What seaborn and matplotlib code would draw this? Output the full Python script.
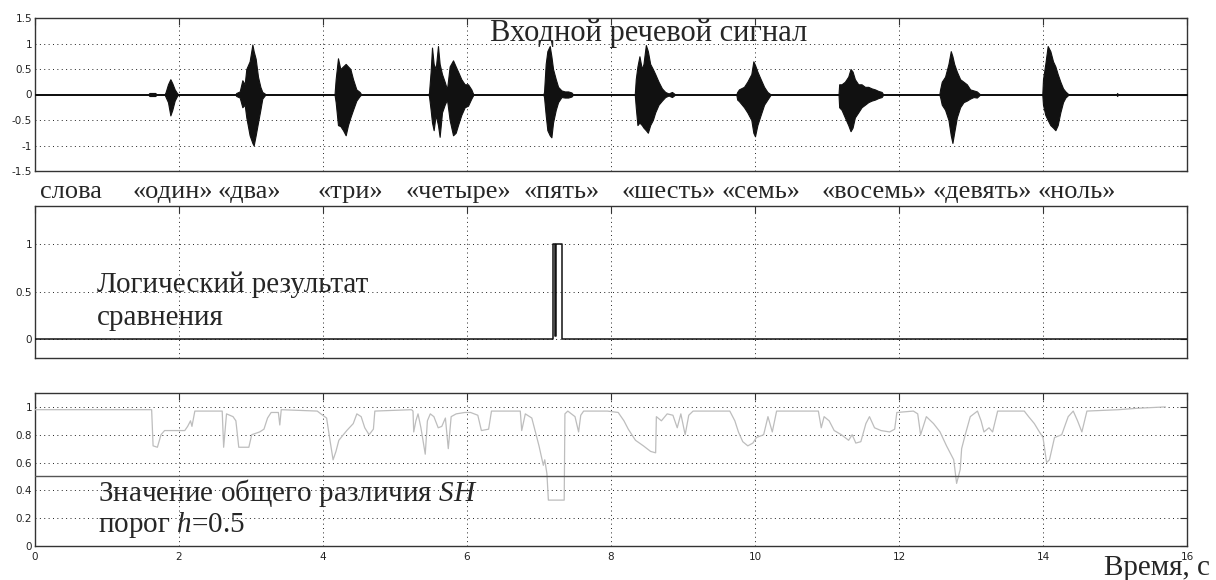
import numpy as np
import matplotlib
matplotlib.use("Agg")
import matplotlib.pyplot as plt
import matplotlib.transforms as mtransforms
import seaborn as sns

# ---------------- data ----------------
# speech waveform envelope: time (s), upper and lower envelope
wave_t = [0.0, 1.57, 1.59, 1.67, 1.69,
          1.80, 1.815, 1.847, 1.880, 1.907, 1.940, 1.972, 1.99,
          2.78, 2.796, 2.843, 2.88, 2.912, 2.935, 2.981, 3.019, 3.037, 3.065, 3.097, 3.13, 3.157, 3.19, 3.20,
          4.16, 4.176, 4.208, 4.241, 4.278, 4.315, 4.347, 4.38, 4.417, 4.463, 4.509, 4.532,
          5.46, 5.472, 5.495, 5.514, 5.537, 5.565, 5.597, 5.620, 5.653, 5.690, 5.722, 5.759, 5.806, 5.843,
          5.875, 5.921, 5.968, 6.014, 6.060, 6.083, 6.09,
          7.06, 7.070, 7.093, 7.116, 7.149, 7.172, 7.195, 7.233, 7.265, 7.312, 7.358, 7.405, 7.451, 7.474,
          8.33, 8.344, 8.367, 8.395, 8.428, 8.451, 8.484, 8.512, 8.544, 8.581, 8.614, 8.660, 8.707, 8.753,
          8.80, 8.847, 8.893,
          9.74, 9.753, 9.777, 9.847, 9.893, 9.949, 9.977, 10.0, 10.033, 10.079, 10.126, 10.172, 10.219,
          11.16, 11.169, 11.202, 11.248, 11.295, 11.327, 11.355, 11.387, 11.434, 11.480, 11.527, 11.573,
          11.619, 11.666, 11.712, 11.759, 11.782,
          12.56, 12.571, 12.594, 12.640, 12.687, 12.719, 12.742, 12.766, 12.803, 12.849, 12.896, 12.942,
          12.988, 13.035, 13.081, 13.128,
          13.99, 14.0, 14.032, 14.065, 14.102, 14.139, 14.172, 14.204, 14.241, 14.278, 14.311, 14.357,
          15.02, 15.03, 15.04, 16.0]
wave_hi = [0.0, 0.0, 0.03, 0.03, 0.0,
           0.0, 0.05, 0.20, 0.30, 0.22, 0.10, 0.03, 0.0,
           0.0, 0.03, 0.06, 0.28, 0.20, 0.50, 0.65, 0.98, 0.85, 0.70, 0.35, 0.15, 0.05, 0.02, 0.0,
           0.0, 0.30, 0.71, 0.50, 0.55, 0.60, 0.55, 0.50, 0.30, 0.10, 0.05, 0.0,
           0.0, 0.03, 0.45, 0.92, 0.60, 0.50, 0.95, 0.60, 0.40, 0.25, 0.10, 0.55, 0.67, 0.55,
           0.45, 0.30, 0.20, 0.20, 0.10, 0.02, 0.0,
           0.0, 0.05, 0.60, 0.85, 0.95, 0.75, 0.50, 0.30, 0.15, 0.08, 0.06, 0.06, 0.04, 0.0,
           0.0, 0.30, 0.55, 0.75, 0.50, 0.60, 0.97, 0.85, 0.60, 0.50, 0.40, 0.25, 0.12, 0.05,
           0.02, 0.05, 0.0,
           0.0, 0.05, 0.10, 0.15, 0.25, 0.40, 0.65, 0.58, 0.45, 0.30, 0.15, 0.05, 0.0,
           0.0, 0.20, 0.20, 0.25, 0.35, 0.50, 0.45, 0.30, 0.20, 0.20, 0.15, 0.15,
           0.12, 0.10, 0.07, 0.05, 0.0,
           0.0, 0.10, 0.25, 0.35, 0.60, 0.85, 0.75, 0.60, 0.45, 0.30, 0.25, 0.20,
           0.10, 0.08, 0.06, 0.0,
           0.0, 0.30, 0.60, 0.95, 0.85, 0.65, 0.55, 0.40, 0.25, 0.12, 0.06, 0.0,
           0.0, 0.03, 0.0, 0.0]
wave_lo = [0.0, 0.0, -0.03, -0.03, 0.0,
           0.0, -0.05, -0.15, -0.41, -0.30, -0.12, -0.03, 0.0,
           0.0, -0.03, -0.06, -0.25, -0.20, -0.45, -0.80, -0.95, -1.00, -0.80, -0.55, -0.30, -0.08, -0.02, 0.0,
           0.0, -0.15, -0.60, -0.62, -0.70, -0.80, -0.60, -0.45, -0.30, -0.12, -0.03, 0.0,
           0.0, -0.03, -0.30, -0.55, -0.70, -0.40, -0.60, -0.83, -0.35, -0.20, -0.10, -0.50, -0.80, -0.75,
           -0.60, -0.40, -0.25, -0.22, -0.08, -0.02, 0.0,
           0.0, -0.05, -0.40, -0.70, -0.80, -0.84, -0.55, -0.30, -0.15, -0.05, -0.06, -0.06, -0.04, 0.0,
           0.0, -0.25, -0.60, -0.55, -0.60, -0.65, -0.70, -0.75, -0.60, -0.50, -0.35, -0.20, -0.12, -0.05,
           -0.02, -0.05, 0.0,
           0.0, -0.10, -0.13, -0.25, -0.35, -0.50, -0.75, -0.82, -0.60, -0.40, -0.20, -0.10, 0.0,
           0.0, -0.25, -0.30, -0.45, -0.60, -0.72, -0.65, -0.45, -0.35, -0.25, -0.20, -0.15,
           -0.12, -0.10, -0.07, -0.05, 0.0,
           0.0, -0.05, -0.20, -0.30, -0.50, -0.80, -0.95, -0.75, -0.45, -0.25, -0.15, -0.12,
           -0.08, -0.05, -0.06, 0.0,
           0.0, -0.20, -0.40, -0.50, -0.60, -0.65, -0.70, -0.60, -0.35, -0.15, -0.06, 0.0,
           0.0, -0.03, 0.0, 0.0]

# logical comparison result
logic_t = [0.0, 7.20, 7.20, 7.222, 7.222, 7.232, 7.232, 7.32, 7.32, 16.0]
logic_v = [0.0, 0.0, 1.0, 1.0, 0.03, 0.03, 1.0, 1.0, 0.0, 0.0]

# overall difference SH
sh_t = [0.0, 1.62, 1.64, 1.70, 1.75, 1.80, 2.08, 2.12, 2.16, 2.18, 2.22, 2.60, 2.62, 2.66, 2.75, 2.79,
        2.83, 2.97, 3.01, 3.12, 3.18, 3.23, 3.28, 3.38, 3.40, 3.42, 3.92, 3.97, 4.05, 4.10, 4.14, 4.18,
        4.22, 4.33, 4.42, 4.47, 4.53, 4.58, 4.64, 4.70, 4.72, 5.23, 5.25, 5.26, 5.29, 5.32, 5.36, 5.42,
        5.45, 5.49, 5.54, 5.60, 5.65, 5.70, 5.74, 5.78, 5.85, 5.97, 6.05, 6.15, 6.20, 6.30, 6.34, 6.74,
        6.76, 6.81, 6.90, 6.95, 7.00, 7.06, 7.08, 7.11, 7.13, 7.35, 7.36, 7.40, 7.50, 7.55, 7.58, 7.62,
        7.95, 8.10, 8.18, 8.24, 8.34, 8.45, 8.50, 8.55, 8.62, 8.63, 8.70, 8.78, 8.86, 8.92, 8.97, 9.03,
        9.08, 9.14, 9.65, 9.72, 9.77, 9.83, 9.90, 9.97, 10.02, 10.12, 10.18, 10.24, 10.30, 10.88, 10.92,
        10.96, 11.03, 11.10, 11.20, 11.30, 11.35, 11.40, 11.47, 11.54, 11.59, 11.66, 11.75, 11.87, 11.94,
        11.97, 12.20, 12.26, 12.30, 12.38, 12.48, 12.57, 12.66, 12.76, 12.80, 12.85, 12.87, 12.92, 12.99,
        13.09, 13.14, 13.18, 13.25, 13.30, 13.37, 13.74, 13.80, 13.88, 13.95, 14.00, 14.05, 14.09, 14.16,
        14.26, 14.35, 14.42, 14.48, 14.54, 14.61, 15.05, 15.30, 15.70]
sh_v = [0.98, 0.98, 0.72, 0.71, 0.80, 0.83, 0.83, 0.86, 0.90, 0.86, 0.97, 0.97, 0.71, 0.95, 0.93, 0.90,
        0.71, 0.71, 0.80, 0.82, 0.84, 0.92, 0.96, 0.96, 0.87, 0.98, 0.97, 0.95, 0.92, 0.75, 0.62, 0.68,
        0.76, 0.83, 0.88, 0.95, 0.93, 0.85, 0.80, 0.84, 0.97, 0.98, 0.97, 0.82, 0.90, 0.95, 0.85, 0.66,
        0.90, 0.95, 0.93, 0.85, 0.86, 0.92, 0.70, 0.93, 0.95, 0.96, 0.96, 0.94, 0.83, 0.84, 0.97, 0.97,
        0.83, 0.95, 0.92, 0.82, 0.72, 0.58, 0.62, 0.52, 0.33, 0.33, 0.95, 0.97, 0.93, 0.82, 0.94, 0.97,
        0.97, 0.96, 0.90, 0.84, 0.76, 0.72, 0.70, 0.68, 0.67, 0.93, 0.90, 0.95, 0.94, 0.85, 0.95, 0.80,
        0.94, 0.97, 0.97, 0.90, 0.82, 0.75, 0.72, 0.74, 0.78, 0.80, 0.93, 0.82, 0.97, 0.97, 0.85,
        0.93, 0.90, 0.83, 0.80, 0.76, 0.80, 0.74, 0.75, 0.88, 0.93, 0.85, 0.83, 0.82, 0.84,
        0.96, 0.97, 0.95, 0.80, 0.93, 0.88, 0.82, 0.72, 0.62, 0.45, 0.55, 0.70, 0.80, 0.93,
        0.97, 0.90, 0.82, 0.85, 0.82, 0.97, 0.97, 0.93, 0.88, 0.82, 0.78, 0.60, 0.62, 0.78,
        0.80, 0.93, 0.97, 0.90, 0.82, 0.97, 0.98, 0.99, 1.00]
threshold = 0.5

# labels
title_top = "Входной речевой сигнал"
words = ["слова", "«один»", "«два»", "«три»", "«четыре»", "«пять»", "«шесть»", "«семь»",
         "«восемь»", "«девять»", "«ноль»"]
words_x = [0.07, 1.36, 2.54, 3.93, 5.14, 6.78, 8.15, 9.54, 10.93, 12.47, 13.92]
logic_label = ["Логический результат", "сравнения"]
sh_label = ["Значение общего различия $SH$", "порог $h$=0.5"]
time_label = "Время, с"

x_ticks = [0, 2, 4, 6, 8, 10, 12, 14, 16]
top_yticks = [-1.5, -1, -0.5, 0, 0.5, 1, 1.5]
top_yticklabels = ["-1.5", "-1", "-0.5", "0", "0.5", "1", "1.5"]
mid_yticks = [0, 0.5, 1]
mid_yticklabels = ["0", "0.5", "1"]
bot_yticks = [0, 0.2, 0.4, 0.6, 0.8, 1]
bot_yticklabels = ["0", "0.2", "0.4", "0.6", "0.8", "1"]

# ---------------- style ----------------
sns.set_theme(style="white")
plt.rcParams['font.family'] = ['DejaVu Sans']
plt.rcParams['axes.unicode_minus'] = False
plt.rcParams['mathtext.fontset'] = 'custom'
plt.rcParams['mathtext.rm'] = 'Liberation Serif'
plt.rcParams['mathtext.it'] = 'Liberation Serif:italic'
SERIF = ['Liberation Serif', 'DejaVu Serif']

W, H = 1216, 580
fig = plt.figure(figsize=(W / 100, H / 100), dpi=100)


def px_axes(left, right, top, bottom):
    return fig.add_axes([left / W, 1 - bottom / H, (right - left) / W, (bottom - top) / H])


ax1 = px_axes(35, 1187, 18, 171)
ax2 = px_axes(35, 1187, 206, 358)
ax3 = px_axes(35, 1187, 393, 546)


def style(ax, yticks, ylabels, ylim, show_x):
    ax.set_xlim(0, 16)
    ax.set_ylim(*ylim)
    ax.set_xticks(x_ticks)
    ax.set_yticks(yticks)
    ax.set_yticklabels(ylabels)
    if show_x:
        ax.set_xticklabels([str(v) for v in x_ticks])
    ax.tick_params(axis='both', direction='in', length=5, width=0.8, top=True, right=True,
                   labelsize=7.5, labelcolor='#222222', color='#333333', pad=2,
                   labelbottom=show_x)
    ax.tick_params(axis='x', pad=4)
    ax.grid(True, linestyle=(0, (1, 3.5)), color='#222222', linewidth=0.7)
    for s in ax.spines.values():
        s.set_color('#333333')
        s.set_linewidth(1.0)
    ax.set_xlabel("")
    ax.set_ylabel("")


# top: speech signal
ax1.fill_between(wave_t, wave_lo, wave_hi, color='#111111', edgecolor='#111111', linewidth=0.8, zorder=3)
sns.lineplot(x=[0, 16], y=[0, 0], ax=ax1, color='#111111', linewidth=1.4, zorder=2)
style(ax1, top_yticks, top_yticklabels, (-1.5, 1.5), False)
ax1.text(6.32, 1.04, title_top, fontsize=22, family=SERIF, ha='left', va='baseline', zorder=5)

# word labels row
tr = mtransforms.blended_transform_factory(ax1.transData, fig.transFigure)
for w, xw in zip(words, words_x):
    fig.text(xw, 1 - 198 / H, w, transform=tr, fontsize=19, family=SERIF, ha='left', va='baseline')

# middle: logical result
sns.lineplot(x=logic_t, y=logic_v, ax=ax2, estimator=None, sort=False, color='#111111', linewidth=1.1, zorder=3)
style(ax2, mid_yticks, mid_yticklabels, (-0.2, 1.4), False)
ax2.text(0.86, 0.49, logic_label[0], fontsize=21, family=SERIF, ha='left', va='baseline', zorder=5)
ax2.text(0.86, 0.15, logic_label[1], fontsize=21, family=SERIF, ha='left', va='baseline', zorder=5)

# bottom: SH
sns.lineplot(x=sh_t, y=sh_v, ax=ax3, estimator=None, sort=False, color='#bdbdbd', linewidth=0.9, zorder=3)
sns.lineplot(x=[0, 16], y=[threshold, threshold], ax=ax3, color='#555555', linewidth=1.0, zorder=3)
style(ax3, bot_yticks, bot_yticklabels, (0, 1.1), True)
ax3.text(0.875, 0.32, sh_label[0], fontsize=21, family=SERIF, ha='left', va='baseline', zorder=5)
ax3.text(0.875, 0.10, sh_label[1], fontsize=21, family=SERIF, ha='left', va='baseline', zorder=5)

fig.text(1210 / W, 1 - 575 / H, time_label, fontsize=21, family=SERIF, ha='right', va='baseline')

fig.savefig("out.png", dpi=100, facecolor='white')
